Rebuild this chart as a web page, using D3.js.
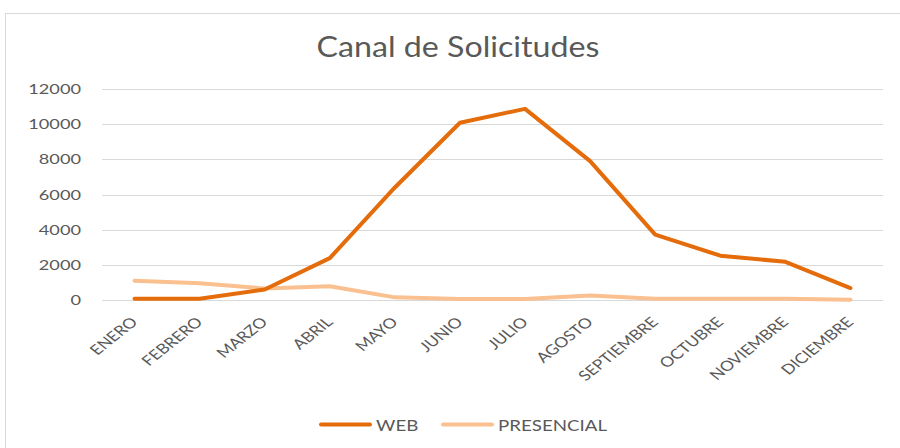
<!DOCTYPE html>
<html>
<head>
<meta charset="utf-8">
<script src="https://cdn.jsdelivr.net/npm/d3@7"></script>
<style>
  body { margin: 0; background: #fff; }
  svg text { font-family: Lato, "Open Sans", sans-serif; fill: #595959; }
</style>
</head>
<body>
<svg id="chart" width="900" height="448"></svg>
<script>
// chart data
const months = ['ENERO', 'FEBRERO', 'MARZO', 'ABRIL', 'MAYO', 'JUNIO', 'JULIO',
  'AGOSTO', 'SEPTIEMBRE', 'OCTUBRE', 'NOVIEMBRE', 'DICIEMBRE']
const web = [70, 70, 600, 2380, 6400, 10080, 10870, 7900, 3720, 2520, 2170, 680]
const presencial = [1100, 950, 650, 780, 150, 50, 50, 250, 70, 70, 70, 20]
const yTicks = [0, 2000, 4000, 6000, 8000, 10000, 12000]

// the source picture is stretched sideways, so text gets a horizontal scale
const stretch = 1.25

const svg = d3.select('#chart')

// outer frame
svg.append('rect')
  .attr('x', 5.5).attr('y', 13.5)
  .attr('width', 900).attr('height', 450)
  .attr('fill', '#fff').attr('stroke', '#d9d9d9')

const margin = {left: 102, right: 17, top: 89, bottom: 148}
const w = 900 - margin.left - margin.right
const h = 448 - margin.top - margin.bottom

const x = d3.scaleBand().domain(months).range([margin.left, margin.left + w])
const y = d3.scaleLinear().domain([0, 12000]).range([margin.top + h, margin.top])
const cx = (m) => x(m) + x.bandwidth() / 2

svg.append('text')
  .attr('transform', 'translate(458,57) scale(1.11,1)')
  .attr('text-anchor', 'middle')
  .style('font-size', '29px')
  .text('Canal de Solicitudes')

// gridlines
svg.append('g').selectAll('line')
  .data(yTicks)
  .enter().append('line')
  .attr('x1', margin.left).attr('x2', margin.left + w)
  .attr('y1', (d) => Math.round(y(d)) + 0.5)
  .attr('y2', (d) => Math.round(y(d)) + 0.5)
  .attr('stroke', '#d9d9d9').attr('stroke-width', 1)

// y tick labels
svg.append('g').selectAll('text')
  .data(yTicks)
  .enter().append('text')
  .attr('transform', (d) => `translate(81,${y(d) + 5}) scale(1.3,1)`)
  .attr('text-anchor', 'end')
  .style('font-size', '14px')
  .text((d) => d)

// x tick labels, rotated then stretched
svg.append('g').selectAll('text')
  .data(months)
  .enter().append('text')
  .attr('transform', (d) => `translate(${cx(d) + 4},${y(0) + 23}) scale(${stretch},1) rotate(-45)`)
  .attr('text-anchor', 'end')
  .style('font-size', '14px')
  .text((d) => d)

const line = d3.line()
  .x((d, i) => cx(months[i]))
  .y((d) => y(d))

const series = [
  {name: 'PRESENCIAL', values: presencial, color: '#fac090'},
  {name: 'WEB', values: web, color: '#e46c0a'}
]

svg.append('g').selectAll('path')
  .data(series)
  .enter().append('path')
  .attr('d', (s) => line(s.values))
  .attr('fill', 'none')
  .attr('stroke', (s) => s.color)
  .attr('stroke-width', 4)
  .attr('stroke-linejoin', 'round')
  .attr('stroke-linecap', 'round')

// legend
const legend = [
  {name: 'WEB', color: '#e46c0a', x: 321},
  {name: 'PRESENCIAL', color: '#fac090', x: 443}
]
const lg = svg.append('g').selectAll('g')
  .data(legend)
  .enter().append('g')
  .attr('transform', (d) => `translate(${d.x},424.5)`)
lg.append('line')
  .attr('x1', 0).attr('x2', 49)
  .attr('stroke', (d) => d.color)
  .attr('stroke-width', 4)
  .attr('stroke-linecap', 'round')
lg.append('text')
  .attr('transform', 'translate(55,6) scale(1.17,1)')
  .style('font-size', '16px')
  .text((d) => d.name)
</script>
</body>
</html>
